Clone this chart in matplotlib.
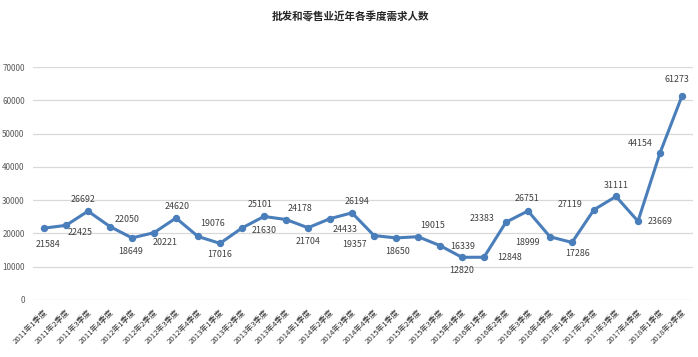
import matplotlib
matplotlib.use("Agg")
import matplotlib.pyplot as plt

plt.rcParams['font.family'] = ['Noto Sans CJK SC', 'DejaVu Sans']

# quarters 2011Q1 .. 2018Q2
years = [2011] * 4 + [2012] * 4 + [2013] * 4 + [2014] * 4 + [2015] * 4 + \
        [2016] * 4 + [2017] * 4 + [2018] * 2
quarters = [1, 2, 3, 4] * 7 + [1, 2]
labels = [f'{y}年{q}季度' for y, q in zip(years, quarters)]

demand = [21584, 22425, 26692, 22050, 18649, 20221, 24620, 19076, 17016, 21630,
          25101, 24178, 21704, 24433, 26194, 19357, 18650, 19015, 16339, 12820,
          12848, 23383, 26751, 18999, 17286, 27119, 31111, 23669, 44154, 61273]

# where each data label sits relative to its point (pixels, +y is up)
label_offsets = [(4, -16), (14, -7), (-5, 12), (17, 7), (-1, -14), (11, -10),
                 (1, 12), (15, 13), (0, -11), (22, -3), (-4, 12), (14, 11),
                 (0, -14), (15, -11), (5, 11), (-19, -9), (2, -14), (15, 11),
                 (23, -1), (0, -13), (26, 0), (-24, 4), (-1, 12), (-23, -6),
                 (6, -11), (-24, 5), (0, 11), (22, 0), (-20, 10), (-5, 17)]

fig = plt.figure(figsize=(6.98, 3.57), dpi=100)
ax = fig.add_axes([0.0473, 0.1597, 0.9455, 0.6526])

x = list(range(len(demand)))
ax.plot(x, demand, color='#4a7ebb', lw=2.2, marker='o', ms=4.3, zorder=3)

for xi, v, (dx, dy) in zip(x, demand, label_offsets):
    ax.annotate(str(v), (xi, v), xytext=(dx, dy), textcoords='offset pixels',
                ha='center', va='center', fontsize=6.4, color='#404040')

ax.set_xlim(-0.5, len(demand) - 0.5)
ax.set_ylim(0, 70000)
ax.set_yticks(range(0, 70001, 10000))
ax.set_yticklabels([str(t) for t in range(0, 70001, 10000)])
ax.set_xticks(x)
ax.set_xticklabels(labels, rotation=45, ha='right', rotation_mode='anchor',
                   fontsize=5.6, color='#333333')
ax.tick_params(axis='y', labelsize=5.8, labelcolor='#595959', length=0, pad=6)
ax.tick_params(axis='x', length=0, pad=6)
ax.grid(axis='y', color='#d9d9d9', lw=0.9)
ax.set_axisbelow(True)
for s in ax.spines.values():
    s.set_visible(False)

fig.text(0.502, 0.952, '批发和零售业近年各季度需求人数', ha='center', va='center',
         fontsize=7.6, fontweight='bold', color='#262626')

fig.savefig('out.png', dpi=100)
